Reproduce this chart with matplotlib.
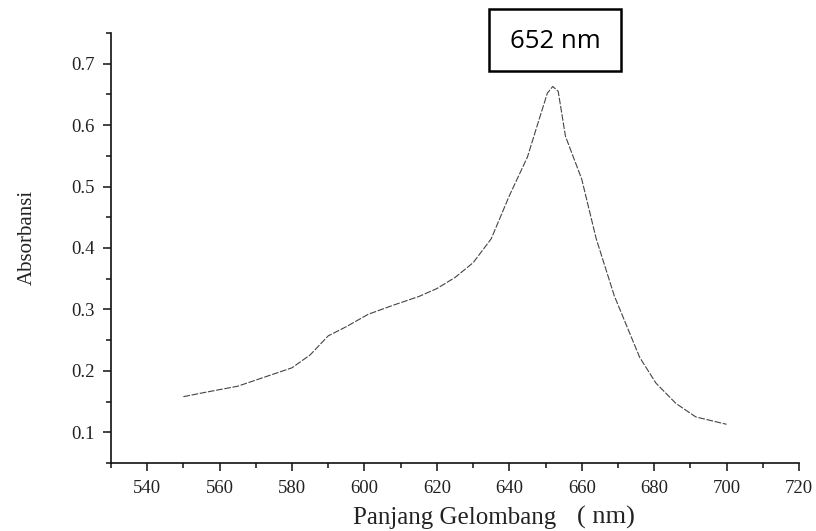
import matplotlib
matplotlib.use("Agg")
import matplotlib.pyplot as plt
from matplotlib.patches import Rectangle
from matplotlib.ticker import MultipleLocator, FuncFormatter

# wavelength (nm) and absorbance
wavelength = [550, 556, 565, 570, 575, 580, 585, 590, 595, 601, 608, 615,
              620, 625, 630, 635, 640, 645, 648, 650.5, 652, 653.5, 655.5,
              660, 664, 669, 676, 680.5, 686, 691.5, 700]
absorbance = [0.158, 0.165, 0.175, 0.185, 0.195, 0.205, 0.226, 0.257, 0.272,
              0.292, 0.307, 0.321, 0.334, 0.352, 0.376, 0.415, 0.485, 0.548,
              0.605, 0.652, 0.663, 0.655, 0.582, 0.512, 0.415, 0.322, 0.222,
              0.180, 0.147, 0.125, 0.113]

peak_label = "652 nm"
serif = "Liberation Serif"

fig = plt.figure(figsize=(8.16, 5.31), dpi=100)
ax = fig.add_axes([111 / 816, 1 - 463 / 531, 688 / 816, 430 / 531])

ax.plot(wavelength, absorbance, color="#444444", linewidth=0.8,
        linestyle=(0, (6, 1.5)))

ax.set_xlim(530, 720)
ax.set_ylim(0.05, 0.75)
ax.xaxis.set_major_locator(MultipleLocator(20))
ax.xaxis.set_minor_locator(MultipleLocator(10))
ax.yaxis.set_major_locator(MultipleLocator(0.1))
ax.yaxis.set_minor_locator(MultipleLocator(0.05))
# no label at the axis corner (530 / 0.05 are not labelled in the source)
ax.xaxis.set_major_formatter(
    FuncFormatter(lambda v, p: "" if v < 535 else f"{v:.0f}"))
ax.yaxis.set_major_formatter(
    FuncFormatter(lambda v, p: "" if v < 0.075 else f"{v:.1f}"))

ax.spines["top"].set_visible(False)
ax.spines["right"].set_visible(False)
for side in ("left", "bottom"):
    ax.spines[side].set_linewidth(1.2)
    ax.spines[side].set_color("#111111")

ax.tick_params(which="major", direction="out", length=6, width=1.1,
               color="#111111", labelsize=13.5, labelcolor="#222222", pad=6,
               labelfontfamily=serif)
ax.tick_params(which="minor", direction="out", length=3.5, width=1.1,
               color="#111111")

fig.text(27 / 816, 1 - 237 / 531, "Absorbansi", rotation=90, ha="center",
         va="center", family=serif, fontsize=15, color="#222222")
fig.text(353 / 816, 1 - 524 / 531, "Panjang Gelombang", ha="left",
         va="baseline", family=serif, fontsize=18, color="#222222")
fig.text(577 / 816, 1 - 524 / 531, "( nm)", ha="left", va="baseline",
         family=serif, fontsize=19, color="#222222")

# boxed peak label
fig.patches.append(Rectangle((489 / 816, 1 - 71 / 531), 132 / 816, 62 / 531,
                             transform=fig.transFigure, fill=False,
                             edgecolor="black", linewidth=1.8))
fig.text(555 / 816, 1 - 41 / 531, peak_label, ha="center", va="center",
         family="Open Sans", fontsize=18.5, color="black")

fig.savefig("out.png", dpi=100)
